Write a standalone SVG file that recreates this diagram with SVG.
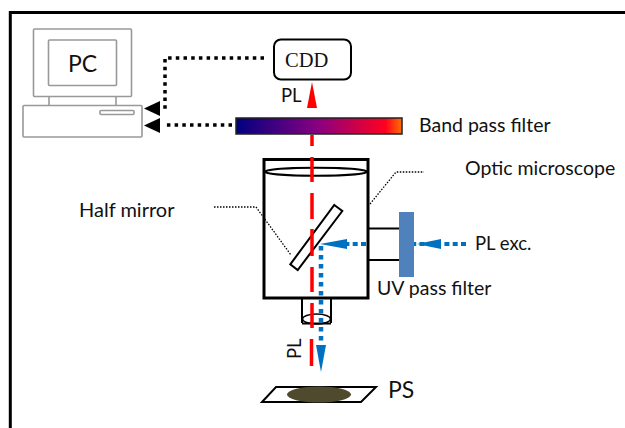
<svg xmlns="http://www.w3.org/2000/svg" width="625" height="428" viewBox="0 0 625 428">
<style>
text{font-family:Lato,"Open Sans",sans-serif;fill:#111;font-size:19.500px}
.g{fill:none;stroke:#999;stroke-width:1.6}
.bd{fill:none;stroke:#000;stroke-width:3.5;stroke-dasharray:3.5 4.2}
.bl{fill:none;stroke:#0070c0;stroke-width:4.500;stroke-dasharray:4.500 4.500}
.bh{fill:none;stroke:#0070c0;stroke-width:4;stroke-dasharray:5 3.300}
.th{fill:none;stroke:#000;stroke-width:1.3;stroke-dasharray:1.5 1.5}
</style>
<defs>
<linearGradient id="f"><stop offset="0" stop-color="#000080"/><stop offset=".5" stop-color="#8a0080"/><stop offset=".9" stop-color="#ff0020"/><stop offset="1" stop-color="#ff7000"/></linearGradient>
</defs>
<rect width="625" height="428" fill="#fff"/>
<path d="M10.300 428V12.500H625" fill="none" stroke="#000" stroke-width="3"/>
<g id="pc">
<rect class="g" x="33.500" y="29" width="98" height="67.500" rx="1"/>
<rect class="g" x="48.500" y="40" width="68" height="45.500" rx="1"/>
<path class="g" d="M49 96.500V105.500M116 96.500V105.500"/>
<rect class="g" x="23" y="105.500" width="119" height="31.500" rx="1"/>
<rect class="g" x="100" y="110.500" width="34" height="4" rx="1"/>
<text x="68" y="72" style="font-size:23px">PC</text>
</g>
<g id="cdd">
<rect x="274" y="39.500" width="77" height="40" rx="7" fill="#fff" stroke="#000" stroke-width="2"/>
<text x="285" y="67" style="font-family:'Liberation Serif',serif;font-size:20.500px">CDD</text>
</g>
<g id="filter">
<rect x="236" y="118" width="166" height="16" fill="url(#f)" stroke="#222" stroke-width="1.500"/>
<text x="419" y="132">Band pass filter</text>
</g>
<g id="microscope">
<rect x="264" y="159.500" width="104" height="138.500" fill="none" stroke="#000" stroke-width="3"/>
<ellipse cx="316" cy="171.700" rx="51" ry="4" fill="none" stroke="#000" stroke-width="2"/>
<path d="M368 228.500H399M368 260H399" fill="none" stroke="#000" stroke-width="2"/>
<path d="M302 299V323M331 299V323M302 323.500H331" fill="none" stroke="#000" stroke-width="2"/>
<ellipse cx="316.500" cy="319" rx="14" ry="5" fill="none" stroke="#000" stroke-width="1.500"/>
<text x="465" y="175">Optic microscope</text>
</g>
<g id="mirror">
<polygon points="334.300,205 342.300,211 297.700,270 290.300,264.300" fill="none" stroke="#000" stroke-width="2"/>
<text x="79" y="217" style="font-size:20px">Half mirror</text>
</g>
<g id="uv">
<rect x="399" y="212" width="15" height="65" fill="#4f81bd"/>
<text x="377" y="295">UV pass filter</text>
</g>
<g id="ps">
<polygon points="276,387 376,387 361,402 262,402" fill="#fff" stroke="#000" stroke-width="2"/>
<ellipse cx="319" cy="394.500" rx="32" ry="8" fill="#4f4a2e"/>
<text x="388" y="398" style="font-size:23px">PS</text>
</g>
<g id="connectors">
<path class="bd" d="M264 58H165V112"/>
<path d="M160 101V116L144 108.500Z"/>
<path class="bd" d="M232 125H165"/>
<path d="M160 118V133L144 125.500Z"/>
<path d="M312 82L317 108H307Z" fill="#f00"/>
<path d="M312 135V146M312 157V182M312 193V219M312 229V256M312 267V292M312 303V328M311.500 339V366" fill="none" stroke="#f00" stroke-width="3.500"/>
<path class="th" d="M370 204L396 172H424"/>
<path class="th" d="M214 207H256L291 255"/>
<path class="bh" d="M366 244H345"/>
<path d="M320 244L347 239V249Z" fill="#0070c0"/>
<path class="bh" d="M466 244H414"/>
<path d="M417 244L441 239V249Z" fill="#0070c0"/>
<path class="bl" d="M321 246V344"/>
<path d="M321 372L316 345H326Z" fill="#0070c0"/>
<text transform="translate(301 359) rotate(-90)" style="font-size:18.500px">PL</text>
<text x="281" y="102" style="font-size:18.500px">PL</text>
<text x="475" y="250" style="font-size:18.500px">PL exc.</text>
</g>
</svg>
